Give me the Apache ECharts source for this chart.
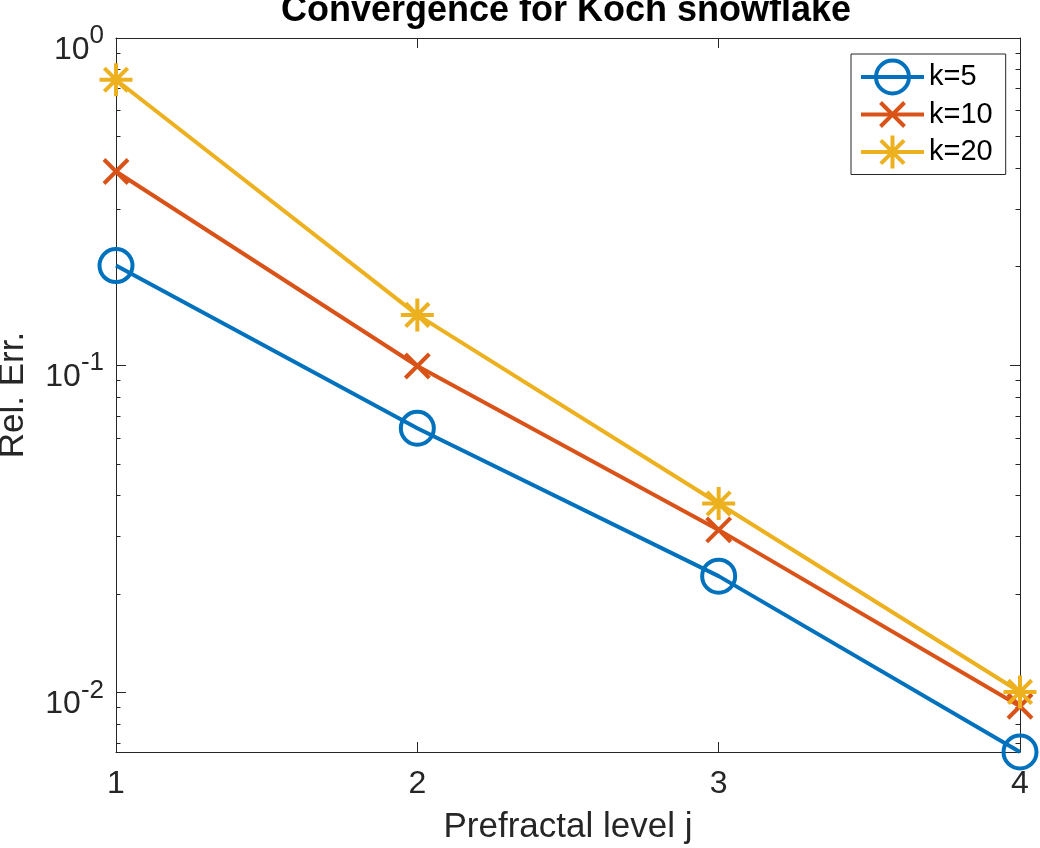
<!DOCTYPE html>
<html>
<head>
<meta charset="utf-8">
<script src="https://cdn.jsdelivr.net/npm/echarts@6/dist/echarts.min.js"></script>
<style>
html,body{margin:0;padding:0;background:#fff;}
#c{width:1040px;height:848px;}
</style>
</head>
<body>
<div id="c"></div>
<script>
const levels = [1, 2, 3, 4];
const k5 = [0.2016, 0.0642, 0.02268, 0.00658];
const k10 = [0.391, 0.0995, 0.0314, 0.00908];
const k20 = [0.7455, 0.1425, 0.0378, 0.01004];
const seriesNames = ['k=5', 'k=10', 'k=20'];
const xTicks = [1, 2, 3, 4];
const yMajor = [0.01, 0.1, 1];
const yMinor = [0.007, 0.008, 0.009,
  0.02, 0.03, 0.04, 0.05, 0.06, 0.07, 0.08, 0.09,
  0.2, 0.3, 0.4, 0.5, 0.6, 0.7, 0.8, 0.9];
const yMin = 0.00658, yMax = 1;

const FONT = 'Liberation Sans, Arial, Helvetica, sans-serif';
const colors = ['#0072BD', '#D95319', '#EDB120'];
const AX = '#262626';
const symbols = [
  'circle',
  'path://M0,0L0,0M33,33L33,33M4.5,4.5L28.5,28.5M28.5,4.5L4.5,28.5',
  'path://M16.5,0L16.5,33M0,16.5L33,16.5M4.83,4.83L28.17,28.17M28.17,4.83L4.83,28.17'
];
const allData = [k5, k10, k20];

const chart = echarts.init(document.getElementById('c'), null, {renderer: 'canvas'});

function yAxisBase(extra) {
  return Object.assign({
    type: 'log', logBase: 10, min: yMin, max: yMax,
    splitLine: {show: false},
    axisLine: {show: false},
    axisLabel: {show: false},
    axisTick: {show: false}
  }, extra);
}

const option = {
  animation: false,
  title: {
    text: 'Convergence for Koch snowflake',
    left: 566, top: -7, padding: 0, textAlign: 'center',
    textStyle: {fontFamily: FONT, fontSize: 36, fontWeight: 'bold', color: '#000'}
  },
  grid: {left: 116, right: 20, top: 38, bottom: 96, containLabel: false, outerBoundsMode: 'none'},
  legend: {
    orient: 'vertical', left: 851, top: 54,
    padding: [4.5, 13, 4, 8],
    itemWidth: 63, itemHeight: 41.25, itemGap: 0.5,
    borderColor: AX, borderWidth: 1, backgroundColor: '#fff',
    selectedMode: false,
    textStyle: {fontFamily: FONT, fontSize: 29, color: '#000'},
    data: seriesNames.map((n, i) => ({
      name: n,
      itemStyle: {color: 'rgba(0,0,0,0)', borderColor: colors[i], borderWidth: 4},
      lineStyle: {color: colors[i], width: 4}
    }))
  },
  xAxis: [{
    type: 'value', min: 1, max: 4, interval: 1, position: 'bottom',
    name: 'Prefractal level j', nameLocation: 'middle', nameGap: 58,
    nameTextStyle: {fontFamily: FONT, fontSize: 35, color: AX},
    splitLine: {show: false},
    axisLine: {show: true, lineStyle: {color: AX, width: 1}},
    axisTick: {show: true, inside: true, length: 10, lineStyle: {color: AX, width: 1}},
    axisLabel: {show: true, margin: 16, fontFamily: FONT, fontSize: 32, color: AX,
      customValues: xTicks}
  }, {
    type: 'value', min: 1, max: 4, interval: 1, position: 'top',
    splitLine: {show: false},
    axisLine: {show: true, lineStyle: {color: AX, width: 1}},
    axisTick: {show: true, inside: true, length: 10, lineStyle: {color: AX, width: 1}},
    axisLabel: {show: false}
  }],
  yAxis: [
    yAxisBase({
      position: 'left',
      name: 'Rel. Err.', nameLocation: 'middle', nameGap: 85, nameRotate: 90,
      nameTextStyle: {fontFamily: FONT, fontSize: 35, color: AX},
      axisLine: {show: true, lineStyle: {color: AX, width: 1}},
      axisTick: {show: true, inside: true, length: 10, lineStyle: {color: AX, width: 1},
        customValues: yMajor},
      axisLabel: {
        show: true, margin: 12, customValues: yMajor,
        formatter: function (v) {
          const e = Math.round(Math.log10(v));
          return '{b|10}{s|' + e + '}';
        },
        rich: {
          b: {fontFamily: FONT, fontSize: 32, color: AX, lineHeight: 32, padding: [12, 0, 0, 0], verticalAlign: 'top'},
          s: {fontFamily: FONT, fontSize: 26, color: AX, lineHeight: 26, padding: [1, 0, 0, 0], verticalAlign: 'top'}
        }
      }
    }),
    yAxisBase({
      position: 'left',
      axisTick: {show: true, inside: true, length: 4.5, lineStyle: {color: AX, width: 1},
        customValues: yMinor}
    }),
    yAxisBase({
      position: 'right',
      axisLine: {show: true, lineStyle: {color: AX, width: 1}},
      axisTick: {show: true, inside: true, length: 10, lineStyle: {color: AX, width: 1},
        customValues: yMajor}
    }),
    yAxisBase({
      position: 'right',
      axisTick: {show: true, inside: true, length: 4.5, lineStyle: {color: AX, width: 1},
        customValues: yMinor}
    })
  ],
  series: seriesNames.map((n, i) => ({
    name: n, type: 'line', xAxisIndex: 0, yAxisIndex: 0,
    data: levels.map((x, j) => [x, allData[i][j]]),
    symbol: symbols[i], symbolSize: 33, showSymbol: true, clip: false,
    lineStyle: {color: colors[i], width: 4},
    itemStyle: {color: 'rgba(0,0,0,0)', borderColor: colors[i], borderWidth: 4},
    emphasis: {disabled: true},
    z: 2 + i
  }))
};
chart.setOption(option);
</script>
</body>
</html>
